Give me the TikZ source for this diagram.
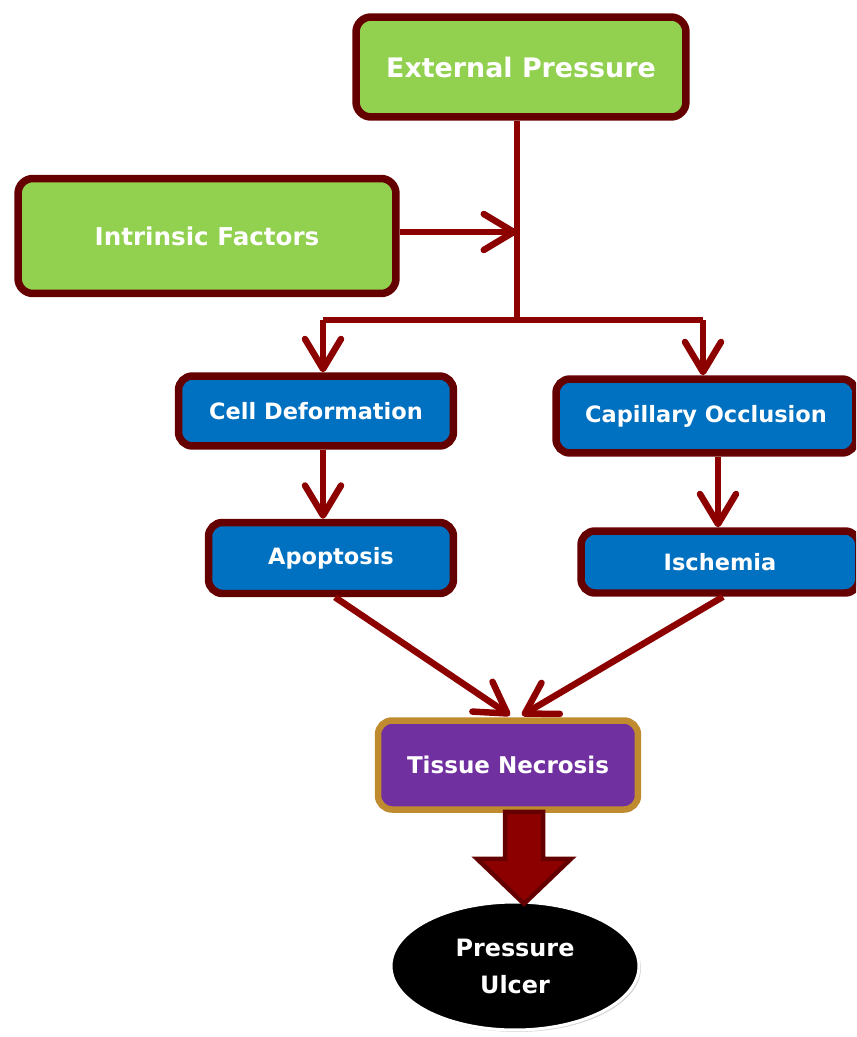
\documentclass[tikz,border=0pt]{standalone}
\usepackage{fontspec}
\setmainfont{DejaVu Sans}
\usepackage{tikz}
\usetikzlibrary{shapes.geometric}
\usetikzlibrary{arrows.meta}
\usetikzlibrary{calc}
\usetikzlibrary{shadows}
\usepackage{xcolor}

\definecolor{boxgreen}{HTML}{92D050}
\definecolor{boxblue}{HTML}{0070C0}
\definecolor{boxpurple}{HTML}{7030A0}
\definecolor{rimred}{HTML}{650000}
\definecolor{linered}{HTML}{8C0000}
\definecolor{rimgold}{HTML}{C08A2E}

\tikzset{
    factor/.style={draw=rimred, line width=0.15cm, rounded corners=0.3cm, fill=boxgreen, text=white, align=center, font=\bfseries},
    effect/.style={draw=rimred, line width=0.15cm, rounded corners=0.28cm, fill=boxblue, text=white, align=center, font=\fontsize{12.8}{15}\selectfont\bfseries},
    flow/.style={draw=linered, line width=0.13cm, -{Straight Barb[length=0.6cm, width=0.72cm, line width=0.13cm, round]}},
    trunk/.style={draw=linered, line width=0.13cm},
    bigarrow/.style={draw=rimred, line width=0.09cm, fill=linered}
}

\begin{document}
\begin{tikzpicture}[x=0.02cm, y=-0.02cm]
            \useasboundingbox (0,0) rectangle (856,1037);
            \clip (0,0) rectangle (856,1037);
            % causes
            \node[factor, minimum width=6.6cm, minimum height=2.0cm, font=\fontsize{15.3}{18}\selectfont\bfseries] (ext) at (521,67) {External Pressure};
            \node[factor, minimum width=7.56cm, minimum height=2.3cm, font=\fontsize{14}{17}\selectfont\bfseries] (intr) at (207,236) {Intrinsic Factors};
            % two pathways
            \node[effect, minimum width=5.5cm, minimum height=1.4cm] (cell) at (316,411) {Cell Deformation};
            \node[effect, minimum width=6.0cm, minimum height=1.48cm] (cap) at (706,416) {Capillary Occlusion};
            \node[effect, minimum width=4.9cm, minimum height=1.42cm] (apop) at (331,558) {Apoptosis};
            \node[effect, minimum width=5.56cm, minimum height=1.24cm] (isch) at (720,562) {Ischemia};
            % outcome
            \node[draw=rimgold, line width=0.13cm, rounded corners=0.28cm, fill=boxpurple, text=white, font=\fontsize{13.1}{16}\selectfont\bfseries, minimum width=5.2cm, minimum height=1.78cm] (tissue) at (508,765) {Tissue Necrosis};
            \node[ellipse, draw=white, line width=0.06cm, fill=black, text=white, align=center, font=\fontsize{13.6}{21}\selectfont\bfseries, minimum width=4.96cm, minimum height=2.56cm, drop shadow={opacity=0.35, shadow xshift=0.04cm, shadow yshift=-0.04cm}] (ulcer) at (515,966) {Pressure\\Ulcer};

            \coordinate (j) at (517,320);
            \coordinate (jl) at (323,320);
            \coordinate (jr) at (703,320);
            \coordinate (jm) at (517,232);

            \draw[trunk] (ext.south -| j) -- (j);
            \draw[trunk] (jl) -- (jr);
            \draw[flow] (intr.east |- jm) -- (jm);
            \draw[flow] (jl) -- (jl |- cell.north);
            \draw[flow] (jr) -- (jr |- cap.north);
            \draw[flow] (cell.south -| jl) -- (apop.north -| jl);
            \draw[flow] ($(cap.south)+(12,0)$) -- ($(isch.north)+(-2,0)$);
            \draw[flow] ($(apop.south)+(4,0)$) -- ($(tissue.north)+(2,-2)$);
            \draw[flow] ($(isch.south)+(3,0)$) -- ($(tissue.north)+(14,-2)$);

            \draw[bigarrow] ($(tissue.south)+(-3,-1)$) -- ++(0,47) -- ++(-28,0) -- ++(47,45) -- ++(47,-45) -- ++(-28,0) -- ++(0,-47) -- cycle;
        \end{tikzpicture}
\end{document}
